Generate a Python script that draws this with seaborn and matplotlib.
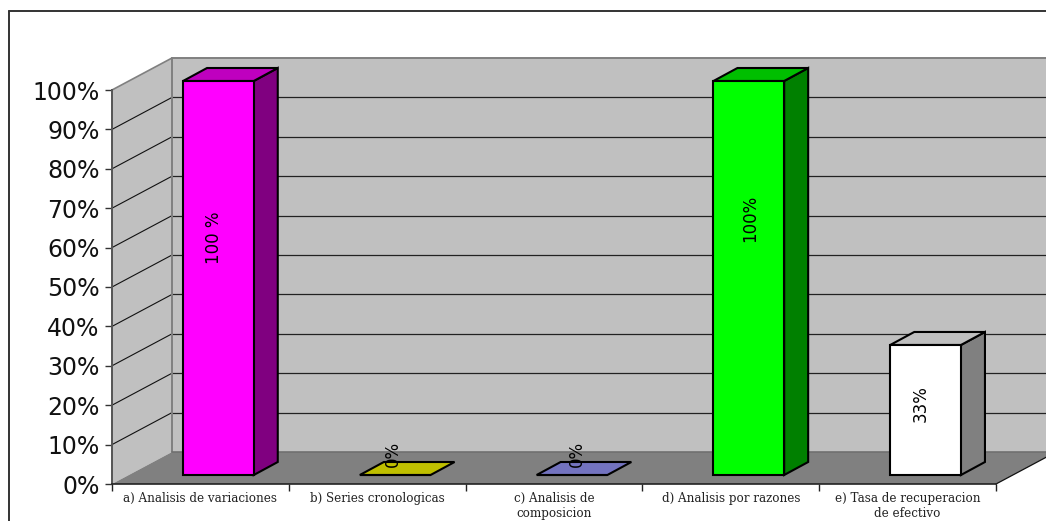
import matplotlib
matplotlib.use("Agg")
import matplotlib.pyplot as plt
from matplotlib.lines import Line2D
from matplotlib.patches import Polygon
from matplotlib.transforms import Affine2D, IdentityTransform
import pandas as pd
import seaborn as sns

categories = [
    "a) Analisis de variaciones",
    "b) Series cronologicas",
    "c) Analisis de\ncomposicion",
    "d) Analisis por razones",
    "e) Tasa de recuperacion\nde efectivo",
]
values = [100, 0, 0, 100, 33]
value_labels = ["100 %", "0%", "0%", "100%", "33%"]
front_colors = ["#FF00FF", "#FFFF00", "#9999FF", "#00FF00", "#FFFFFF"]
top_colors = ["#BF00BF", "#BFBF00", "#7373BF", "#00BF00", "#BFBFBF"]
side_colors = ["#800080", "#808000", "#4D4D80", "#008000", "#808080"]
y_ticks = list(range(0, 101, 10))

W, H = 1046, 521
AX_L, AX_R, AX_TOP, AX_BOT = 112, 996, 90, 484

sns.set_theme(style="white")
plt.rcParams["font.family"] = ["DejaVu Sans"]

fig = plt.figure(figsize=(W / 100, H / 100), dpi=100, facecolor="white")
ax = fig.add_axes([AX_L / W, 1 - AX_BOT / H, (AX_R - AX_L) / W, (AX_BOT - AX_TOP) / H])
ax.patch.set_alpha(0)

df = pd.DataFrame({"category": categories, "value": values})
sns.barplot(
    data=df, x="category", y="value", hue="category", palette=front_colors,
    order=categories, hue_order=categories, width=0.4, legend=False, ax=ax,
    edgecolor="black", linewidth=1.5, saturation=1, zorder=5,
)
bars = list(ax.patches)
ax.set_xlim(-0.5, len(categories) - 0.5)
ax.set_ylim(0, 100)
ax.set_xlabel("")
ax.set_ylabel("")

# Pixel offsets of the oblique projection (display coordinates, y up)
WALL_DX, WALL_DY = 60, 32
BAR_DX, BAR_DY = 18, 9
DEPTH_DX, DEPTH_DY = 24, 13
to_px = ax.transData.transform
pixel = IdentityTransform()


def shape(points, face, edge="none", lw=0.0, z=1):
    ax.add_patch(Polygon(points, closed=True, facecolor=face, edgecolor=edge, linewidth=lw,
                         transform=pixel, clip_on=False, zorder=z, joinstyle="miter"))


def segment(p, q, color, lw, z=2):
    ax.add_line(Line2D([p[0], q[0]], [p[1], q[1]], color=color, linewidth=lw,
                       transform=pixel, clip_on=False, zorder=z))


(x0, y0), (x1, y1) = to_px([(-0.5, 0), (len(categories) - 0.5, 100)])

# Back wall, side wall and floor
shape([(x0 + WALL_DX, y0 + WALL_DY), (x1 + WALL_DX, y0 + WALL_DY),
       (x1 + WALL_DX, y1 + WALL_DY), (x0 + WALL_DX, y1 + WALL_DY)], "#C0C0C0")
shape([(x0, y0), (x0 + WALL_DX, y0 + WALL_DY), (x0 + WALL_DX, y1 + WALL_DY), (x0, y1)], "#C0C0C0")
shape([(x0, y0), (x1, y0), (x1 + WALL_DX, y0 + WALL_DY), (x0 + WALL_DX, y0 + WALL_DY)], "#808080")

# Gridlines wrapping the side wall and back wall
for tick in y_ticks[1:-1]:
    _, py = to_px((0, tick))
    segment((x0, py), (x0 + WALL_DX, py + WALL_DY), "#111111", 0.8)
    segment((x0 + WALL_DX, py + WALL_DY), (x1 + WALL_DX, py + WALL_DY), "#222222", 0.9)

# Wall outlines
segment((x0, y1), (x0 + WALL_DX, y1 + WALL_DY), "#808080", 1.2)
segment((x0 + WALL_DX, y1 + WALL_DY), (x1 + WALL_DX, y1 + WALL_DY), "#808080", 1.4)
segment((x0 + WALL_DX, y0 + WALL_DY), (x0 + WALL_DX, y1 + WALL_DY), "#808080", 1.4)
segment((x0 + WALL_DX, y0 + WALL_DY), (x1 + WALL_DX, y0 + WALL_DY), "#707070", 1.2)
segment((x1, y0), (x1 + WALL_DX, y0 + WALL_DY), "#111111", 0.9)

# Bars: the front faces come from seaborn, lifted onto the floor, with depth faces added
for i, bar in enumerate(bars):
    bx0, bx1 = bar.get_x(), bar.get_x() + bar.get_width()
    (ax0, ay0), (ax1, ay1) = to_px([(bx0, 0), (bx1, bar.get_height())])
    ax0, ax1, ay0, ay1 = ax0 + BAR_DX, ax1 + BAR_DX, ay0 + BAR_DY, ay1 + BAR_DY
    bar.set_transform(ax.transData + Affine2D().translate(BAR_DX, BAR_DY))
    bar.set_clip_on(False)
    if bar.get_height() > 0:
        shape([(ax1, ay0), (ax1 + DEPTH_DX, ay0 + DEPTH_DY),
               (ax1 + DEPTH_DX, ay1 + DEPTH_DY), (ax1, ay1)],
              side_colors[i], "black", 1.5, z=4)
    shape([(ax0, ay1), (ax1, ay1), (ax1 + DEPTH_DX, ay1 + DEPTH_DY), (ax0 + DEPTH_DX, ay1 + DEPTH_DY)],
          top_colors[i], "black", 1.5, z=4)

# Rotated value labels, placed along each bar
label_shift = [(-4, 40), (-2, 21), (5, 21), (1, 60), (-5, 6)]
for i, (bar, text) in enumerate(zip(bars, value_labels)):
    cx = bar.get_x() + bar.get_width() / 2
    px, py = to_px((cx, bar.get_height() / 2))
    ax.text(px + BAR_DX + label_shift[i][0], py + BAR_DY + label_shift[i][1], text,
            transform=pixel, rotation=90, ha="center", va="center",
            fontsize=12, color="black", zorder=8, clip_on=False)

# Axes furniture
for name in ("top", "right"):
    ax.spines[name].set_visible(False)
ax.spines["left"].set_color("#555555")
ax.spines["left"].set_linewidth(1.4)
ax.spines["bottom"].set_color("#222222")
ax.spines["bottom"].set_linewidth(1.2)
ax.spines["left"].set_zorder(3)
ax.spines["bottom"].set_zorder(3)

ax.set_yticks(y_ticks)
ax.set_yticklabels([f"{t}%" for t in y_ticks], fontsize=17, color="#111111", fontfamily="DejaVu Sans")
ax.tick_params(axis="y", left=True, length=5, width=1.0, color="#333333", pad=4)

positions = list(range(len(categories)))
ax.set_xticks(positions)
ax.set_xticklabels(categories, fontsize=8.6, fontfamily="DejaVu Serif", color="#222222", linespacing=1.15)
ax.set_xticks([p - 0.5 for p in positions] + [positions[-1] + 0.5], minor=True)
ax.tick_params(axis="x", which="major", bottom=False, length=0, pad=6)
ax.tick_params(axis="x", which="minor", bottom=True, length=5, width=1.0, color="#222222")

# Chart area frame running off the right and lower edges
fig.add_artist(Line2D([9 / W, 9 / W], [0, 1 - 11 / H], color="#333333", linewidth=1.4))
fig.add_artist(Line2D([9 / W, 1], [1 - 11 / H, 1 - 11 / H], color="#333333", linewidth=1.4))

fig.savefig("out.png", dpi=100, facecolor="white")
